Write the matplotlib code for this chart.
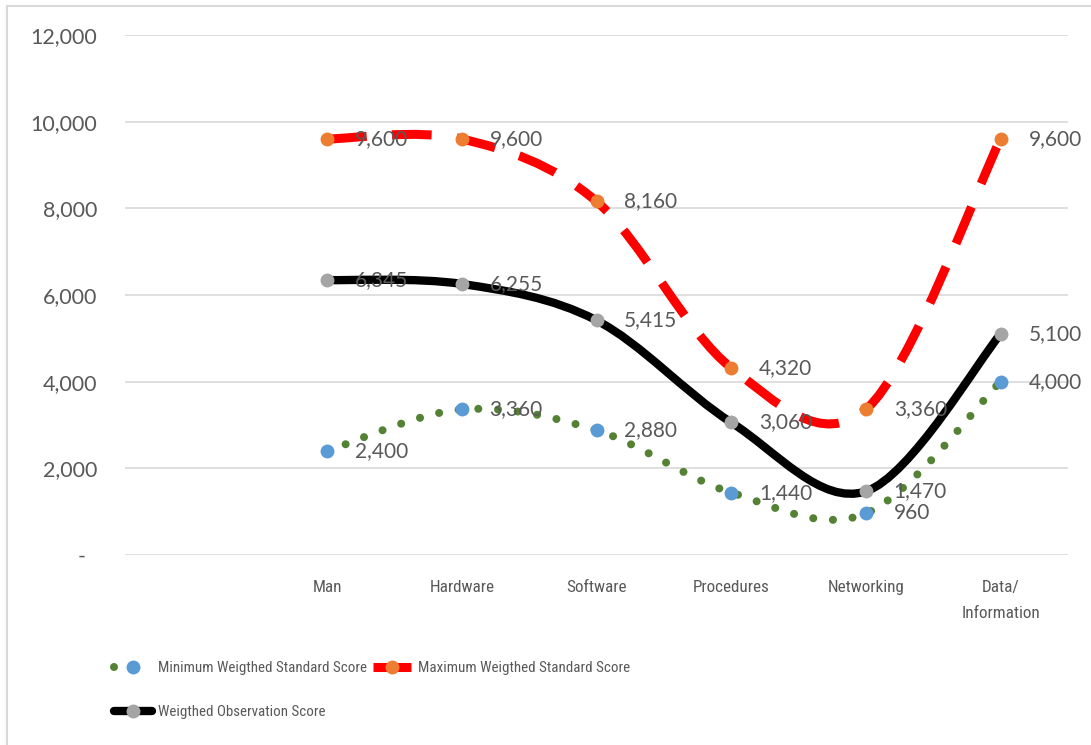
import matplotlib
matplotlib.use("Agg")
import matplotlib.pyplot as plt
from matplotlib.path import Path
from matplotlib.patches import PathPatch
from matplotlib.lines import Line2D

categories = ["", "Man", "Hardware", "Software", "Procedures", "Networking", "Data/\nInformation"]
min_scores = [2400, 3360, 2880, 1440, 960, 4000]
max_scores = [9600, 9600, 8160, 4320, 3360, 9600]
obs_scores = [6345, 6255, 5415, 3060, 1470, 5100]
yticks = [0, 2000, 4000, 6000, 8000, 10000, 12000]

narrow = {"family": ["Roboto Condensed", "Open Sans"], "stretch": "condensed"}
num_font = "Lato"
TXT = "#595959"
GRID = "#D9D9D9"


def smooth_path(xs, ys):
    # excel-like smoothed line: catmull-rom turned into cubic beziers
    pts = list(zip(xs, ys))
    verts = [pts[0]]
    codes = [Path.MOVETO]
    for i in range(len(pts) - 1):
        p0 = pts[i - 1] if i > 0 else pts[i]
        p1 = pts[i]
        p2 = pts[i + 1]
        p3 = pts[i + 2] if i + 2 < len(pts) else pts[i + 1]
        c1 = (p1[0] + (p2[0] - p0[0]) / 6, p1[1] + (p2[1] - p0[1]) / 6)
        c2 = (p2[0] - (p3[0] - p1[0]) / 6, p2[1] - (p3[1] - p1[1]) / 6)
        verts += [c1, c2, p2]
        codes += [Path.CURVE4] * 3
    return Path(verts, codes)


fig = plt.figure(figsize=(10.91, 7.45), dpi=100)
ax = fig.add_axes([125 / 1091, 1 - 555 / 745, (1068 - 125) / 1091, 520 / 745])

xs = list(range(1, 7))

series = [
    (min_scores, dict(color="#548235", lw=5.8, ls=(0, (0.001, 2.45)), capstyle="round"), "#5B9BD5"),
    (max_scores, dict(color="#FF0000", lw=6.5, ls=(0, (4.4, 2.8)), capstyle="butt"), "#ED7D31"),
    (obs_scores, dict(color="black", lw=6, ls="-", capstyle="round"), "#A5A5A5"),
]

for vals, st, mcol in series:
    patch = PathPatch(smooth_path(xs, vals), fill=False, edgecolor=st["color"],
                      linewidth=st["lw"], linestyle=st["ls"], capstyle=st["capstyle"], zorder=3)
    ax.add_patch(patch)
    ax.plot(xs, vals, "o", color=mcol, markersize=10, markeredgewidth=0, zorder=4)
    for x, v in zip(xs, vals):
        ax.annotate("{:,}".format(v), (x, v), xytext=(20, 0), textcoords="offset points",
                    ha="left", va="center", fontsize=15, color=TXT, family=num_font, zorder=5)

ax.set_xlim(-0.5, 6.5)
ax.set_ylim(0, 12000)
ax.set_yticks(yticks)
ax.set_yticklabels(["-  "] + ["{:,}".format(t) for t in yticks[1:]], family=num_font,
                   fontsize=15.5, color=TXT)
ax.set_xticks(range(7))
ax.set_xticklabels(categories, fontsize=12.3, color=TXT, linespacing=1.95, **narrow)
ax.tick_params(axis="both", length=0)
ax.tick_params(axis="y", pad=20)
ax.tick_params(axis="x", pad=18)
ax.grid(axis="y", color=GRID, linewidth=1.2)
ax.set_axisbelow(True)
for sp in ax.spines.values():
    sp.set_visible(False)

handles = [
    Line2D([], [], color="#548235", lw=5.8, ls=(0, (0.001, 2.45)), dash_capstyle="round",
           marker="o", markersize=10, markerfacecolor="#5B9BD5", markeredgewidth=0),
    Line2D([], [], color="black", lw=6, solid_capstyle="round",
           marker="o", markersize=10, markerfacecolor="#A5A5A5", markeredgewidth=0),
    Line2D([], [], color="#FF0000", lw=6.5, ls=(0, (4.4, 2.8)), dash_capstyle="butt",
           marker="o", markersize=10, markerfacecolor="#ED7D31", markeredgewidth=0),
]
labels = ["Minimum Weigthed Standard Score", "Weigthed Observation Score",
          "Maximum Weigthed Standard Score"]
leg = fig.legend(handles, labels, loc="upper left", bbox_to_anchor=(108 / 1091, 1 - 655 / 745),
                 ncol=2, frameon=False, handlelength=2.5, handletextpad=0.45, columnspacing=0.4,
                 labelspacing=2.0, prop=dict(size=10.8, **narrow), borderaxespad=0)
for t in leg.get_texts():
    t.set_color(TXT)

# chart border (only the top and left edges show)
fig.add_artist(Line2D([7 / 1091, 7 / 1091], [0, 1 - 6 / 745], color=GRID, lw=1.5))
fig.add_artist(Line2D([7 / 1091, 1], [1 - 6 / 745, 1 - 6 / 745], color=GRID, lw=1.5))

fig.savefig("out.png", dpi=100)
